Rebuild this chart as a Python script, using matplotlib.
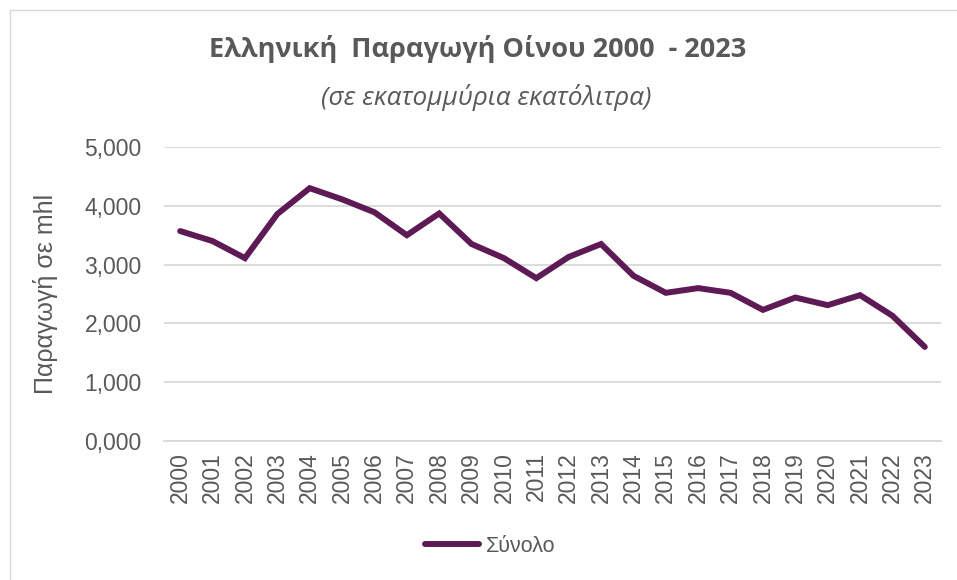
import matplotlib.pyplot as plt
from matplotlib.lines import Line2D
from matplotlib.ticker import FuncFormatter

years = [str(y) for y in range(2000, 2024)]
production = [3.57, 3.40, 3.11, 3.86, 4.30, 4.11, 3.89, 3.50, 3.87, 3.35,
              3.11, 2.77, 3.13, 3.35, 2.81, 2.52, 2.60, 2.52, 2.23, 2.44,
              2.31, 2.48, 2.13, 1.60]

title = "Ελληνική  Παραγωγή Οίνου 2000  - 2023"
subtitle = "(σε εκατομμύρια εκατόλιτρα)"
series_name = "Σύνολο"
ylabel = "Παραγωγή σε mhl"

line_color = "#5E1A55"
text_color = "#595959"

W, H = 957, 580
fig = plt.figure(figsize=(W / 100, H / 100), dpi=100)
ax = fig.add_axes([164 / W, 1 - 441 / H, (941 - 164) / W, (441 - 147) / H])

x = list(range(len(years)))
ax.plot(x, production, color=line_color, lw=4.3, solid_capstyle="round",
        solid_joinstyle="miter", label=series_name)

ax.set_xlim(-0.5, len(years) - 0.5)
ax.set_ylim(0, 5)
ax.set_yticks([0, 1, 2, 3, 4, 5])
ax.yaxis.set_major_formatter(FuncFormatter(lambda v, p: f"{v:.3f}".replace(".", ",")))
ax.set_xticks(x)
ax.set_xticklabels(years, rotation=90)

ax.grid(axis="y", color="#D9D9D9", lw=1.3)
ax.set_axisbelow(True)
for s in ["top", "right", "left"]:
    ax.spines[s].set_visible(False)
ax.spines["bottom"].set_color("#D9D9D9")
ax.spines["bottom"].set_linewidth(1.3)
ax.tick_params(axis="both", length=0, labelsize=16.5, colors=text_color,
               labelfontfamily="Liberation Sans")
ax.tick_params(axis="y", pad=16)
ax.tick_params(axis="x", pad=8)

ax.set_ylabel(ylabel, fontsize=18, color=text_color, family="Liberation Sans", labelpad=19)

fig.text(478 / W, 1 - 49 / H, title, ha="center", va="center", fontsize=19.5,
         fontweight="bold", color=text_color, family="Open Sans")
fig.text(486 / W, 1 - 97 / H, subtitle, ha="center", va="center", fontsize=18.8,
         style="italic", color=text_color, family="Open Sans")

fig.legend(loc="center", bbox_to_anchor=(490 / W, 1 - 546 / H), frameon=False,
           prop={"family": "Liberation Sans", "size": 15.5}, labelcolor=text_color,
           handlelength=2.5, handletextpad=0.3)

# outer chart border
fig.add_artist(Line2D([10 / W, 1], [1 - 9.5 / H, 1 - 9.5 / H], color="#D9D9D9", lw=1))
fig.add_artist(Line2D([10 / W, 10 / W], [0, 1 - 9.5 / H], color="#D9D9D9", lw=1))

fig.savefig("out.png", dpi=100)
